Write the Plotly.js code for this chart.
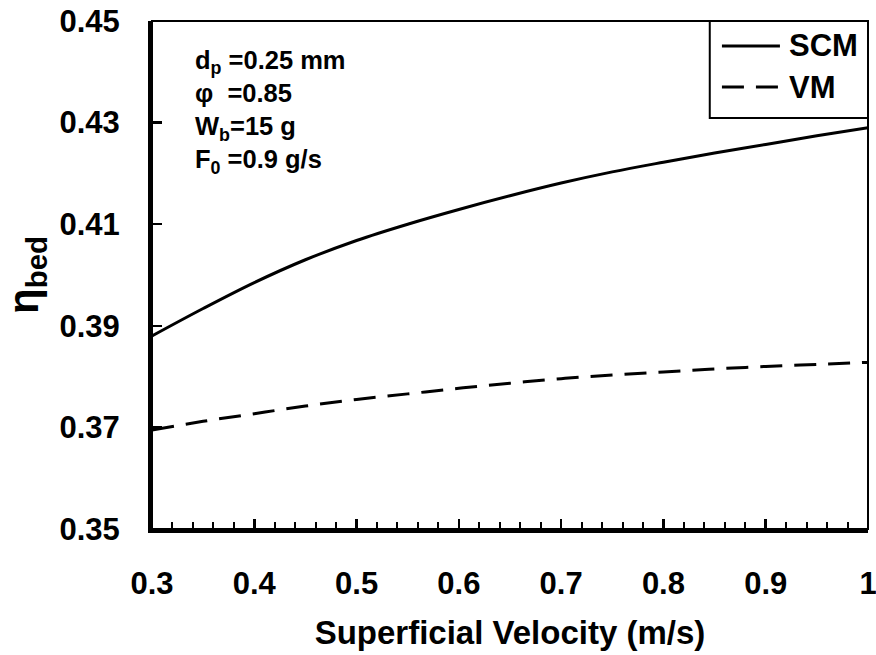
<!DOCTYPE html>
<html>
<head>
<meta charset="utf-8">
<script src="https://cdn.plot.ly/plotly-3.0.1.min.js"></script>
<style>html,body{margin:0;padding:0;background:#fff;}#chart{width:876px;height:655px;}</style>
</head>
<body>
<div id="chart"></div>
<script>
// Data
const velocity = [0.30, 0.35, 0.40, 0.45, 0.50, 0.55, 0.60, 0.65, 0.70, 0.75, 0.80, 0.85, 0.90, 0.95, 1.00];
const etaSCM   = [0.3880, 0.3934, 0.3985, 0.4030, 0.4068, 0.4100, 0.4129, 0.4156, 0.4181, 0.4203, 0.4222, 0.4240, 0.4257, 0.4274, 0.4290];
const etaVM    = [0.3695, 0.3712, 0.3727, 0.3742, 0.3755, 0.3766, 0.3777, 0.3787, 0.3796, 0.3803, 0.3809, 0.3815, 0.3820, 0.3824, 0.3828];
const seriesNames = ['SCM', 'VM'];
const seriesDash = ['solid', '22px,12px'];
const yTickVals = [0.35, 0.37, 0.39, 0.41, 0.43, 0.45];
const xTickVals = [0.3, 0.4, 0.5, 0.6, 0.7, 0.8, 0.9, 1.0];
const xTickText = ['0.3', '0.4', '0.5', '0.6', '0.7', '0.8', '0.9', '1'];
const conditionsText = 'd<sub>p</sub> =0.25 mm<br>\u03c6\u00a0\u00a0=0.85<br>W<sub>b</sub>=15 g<br>F<sub>0</sub> =0.9 g/s';

const FONT = 'Liberation Sans, Arial, sans-serif';
const bold = (size) => ({family: FONT, size: size, weight: 'bold', color: '#000'});

const traces = [
  {x: velocity, y: etaSCM, name: seriesNames[0], type: 'scatter', mode: 'lines', showlegend: false,
   line: {color: '#000', width: 3, dash: seriesDash[0], shape: 'spline', smoothing: 1}},
  {x: velocity, y: etaVM, name: seriesNames[1], type: 'scatter', mode: 'lines', showlegend: false,
   line: {color: '#000', width: 3, dash: seriesDash[1], shape: 'spline', smoothing: 1}}
];

// Legend drawn as a boxed key in the upper-right corner (paper coordinates)
const legBox = {x0: 0.779, x1: 1.0, y0: 0.809, y1: 1.0};
const legRowsY = [0.951, 0.870];
const legLineX = [0.796, 0.877];
const legTextX = 0.887;

const shapes = [
  {type: 'rect', xref: 'paper', yref: 'paper', x0: 0, x1: 1, y0: 0, y1: 1,
   line: {color: '#000', width: 2}, fillcolor: 'rgba(0,0,0,0)', layer: 'above'},
  {type: 'rect', xref: 'paper', yref: 'paper', x0: legBox.x0, x1: legBox.x1, y0: legBox.y0, y1: legBox.y1,
   line: {color: '#000', width: 2}, fillcolor: '#fff', layer: 'above'}
];
const annotations = [
  {xref: 'paper', yref: 'paper', x: 0.057, y: 0.955, xanchor: 'left', yanchor: 'top',
   align: 'left', showarrow: false, text: conditionsText, font: bold(25.5)}
];
seriesNames.forEach((nm, i) => {
  shapes.push({type: 'line', xref: 'paper', yref: 'paper',
    x0: legLineX[0], x1: legLineX[1], y0: legRowsY[i], y1: legRowsY[i],
    line: {color: '#000', width: 3, dash: seriesDash[i]}, layer: 'above'});
  annotations.push({xref: 'paper', yref: 'paper', x: legTextX, y: legRowsY[i],
    xanchor: 'left', yanchor: 'middle', showarrow: false, text: nm, font: bold(31)});
});

const layout = {
  width: 876, height: 655,
  margin: {l: 152, r: 8, t: 21, b: 126, pad: 0},
  paper_bgcolor: '#fff', plot_bgcolor: '#fff',
  font: {family: FONT, color: '#000'},
  showlegend: false,
  xaxis: {
    range: [0.3, 1.0], tickvals: xTickVals, ticktext: xTickText,
    showgrid: false, zeroline: false,
    showline: true, linewidth: 4, linecolor: '#000', mirror: false,
    ticks: 'inside', ticklen: 10, tickwidth: 2.5, tickcolor: '#000',
    minor: {dtick: 0.02, ticks: 'inside', ticklen: 7, tickwidth: 2, tickcolor: '#000', showgrid: false},
    tickfont: bold(31),
    ticklabelstandoff: 24, ticklabeloverflow: 'allow',
    title: {text: 'Superficial Velocity (m/s)', standoff: 22, font: bold(33)},
    automargin: false
  },
  yaxis: {
    range: [0.35, 0.45], tickvals: yTickVals, tickformat: '.2f',
    showgrid: false, zeroline: false,
    showline: true, linewidth: 4, linecolor: '#000', mirror: false,
    ticks: 'inside', ticklen: 10, tickwidth: 2.5, tickcolor: '#000',
    tickfont: bold(31),
    ticklabelstandoff: 22, ticklabeloverflow: 'allow',
    title: {text: '\u03b7<sub>bed</sub>', standoff: 14, font: bold(42)},
    automargin: false
  },
  shapes: shapes,
  annotations: annotations
};

Plotly.newPlot('chart', traces, layout, {staticPlot: true, displayModeBar: false});
</script>
</body>
</html>
